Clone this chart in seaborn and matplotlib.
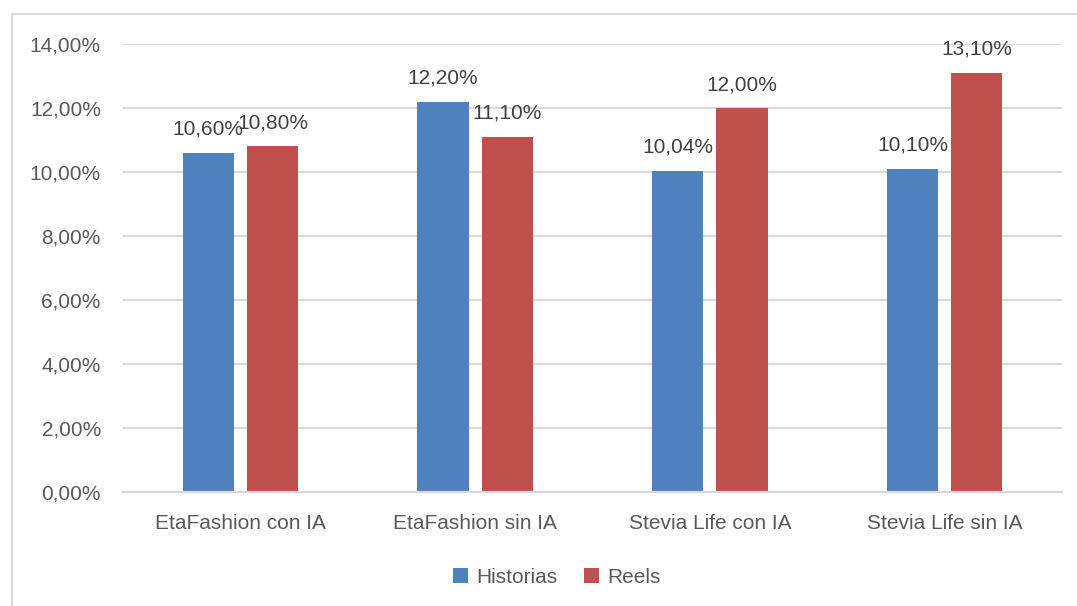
import pandas as pd
import numpy as np
import matplotlib.pyplot as plt
import seaborn as sns
from matplotlib.lines import Line2D
from matplotlib.patches import Patch

# datos
categorias = ['EtaFashion con IA', 'EtaFashion sin IA', 'Stevia Life con IA', 'Stevia Life sin IA']
historias = [10.60, 12.20, 10.04, 10.10]
reels = [10.80, 11.10, 12.00, 13.10]
series = ['Historias', 'Reels']
colores = ['#4F81BD', '#C0504D']

df = pd.DataFrame({
    'categoria': categorias * 2,
    'serie': [series[0]] * 4 + [series[1]] * 4,
    'valor': historias + reels,
})

sns.set_theme(style='white')
plt.rcParams['font.family'] = ['Liberation Sans', 'DejaVu Sans']

fig = plt.figure(figsize=(10.77, 6.06), dpi=100)
ax = fig.add_axes([0.1142, 0.1881, 0.8719, 0.7393])

sns.barplot(data=df, x='categoria', y='valor', hue='serie', palette=colores,
            width=0.547, gap=0.2, linewidth=0, ax=ax, legend=False, saturation=1)

ax.set_ylim(0, 14)
ax.set_xlim(-0.5, 3.5)
ax.set_yticks(np.arange(0, 15, 2))
ax.set_yticklabels([f'{v:.2f}%'.replace('.', ',') for v in np.arange(0, 15, 2)])
ax.yaxis.grid(True, color='#D9D9D9', lw=1.6)
ax.set_axisbelow(True)
for s in ['top', 'right', 'left']:
    ax.spines[s].set_visible(False)
ax.spines['bottom'].set_color('#D9D9D9')
ax.spines['bottom'].set_linewidth(1.6)
ax.tick_params(axis='both', length=0, labelsize=15, colors='#595959')
ax.tick_params(axis='y', pad=16)
ax.tick_params(axis='x', pad=16)
ax.set_xlabel('')
ax.set_ylabel('')

# etiquetas de datos
for cont in ax.containers:
    for bar in cont:
        h = bar.get_height()
        ax.annotate(f'{h:.2f}%'.replace('.', ','),
                    (bar.get_x() + bar.get_width() / 2, h),
                    xytext=(0, 10), textcoords='offset points',
                    ha='center', va='bottom', fontsize=15, color='#404040')

handles = [Patch(facecolor=c, edgecolor='none') for c in colores]
fig.legend(handles, series, loc='center', bbox_to_anchor=(0.517, 0.047), ncol=2,
           frameon=False, fontsize=15, labelcolor='#595959',
           handlelength=0.7, handleheight=0.7, handletextpad=0.4, columnspacing=1.3)

# borde del grafico
fig.add_artist(Line2D([12 / 1077, 12 / 1077], [0, 1 - 14 / 606], color='#D9D9D9', lw=1.5))
fig.add_artist(Line2D([12 / 1077, 1], [1 - 14 / 606, 1 - 14 / 606], color='#D9D9D9', lw=1.5))

fig.savefig('out.png', dpi=100)
